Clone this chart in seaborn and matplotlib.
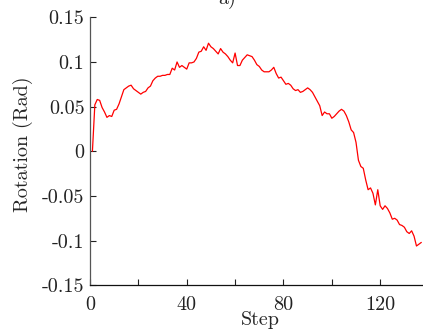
import matplotlib
matplotlib.use("Agg")
import matplotlib.pyplot as plt
import seaborn as sns
import pandas as pd

steps = list(range(1, 138))
rotation = [
    0.0, 0.052, 0.058, 0.057, 0.049, 0.044, 0.038, 0.040, 0.039, 0.046,
    0.047, 0.053, 0.061, 0.069, 0.071, 0.073, 0.074, 0.070, 0.068, 0.066,
    0.064, 0.066, 0.067, 0.071, 0.073, 0.079, 0.082, 0.084, 0.084, 0.085,
    0.085, 0.086, 0.086, 0.093, 0.091, 0.100, 0.094, 0.096, 0.094, 0.092,
    0.099, 0.099, 0.100, 0.104, 0.111, 0.112, 0.117, 0.113, 0.121, 0.117,
    0.115, 0.112, 0.109, 0.115, 0.111, 0.109, 0.106, 0.102, 0.099, 0.110,
    0.096, 0.096, 0.102, 0.105, 0.108, 0.107, 0.106, 0.102, 0.097, 0.095,
    0.091, 0.089, 0.089, 0.089, 0.091, 0.094, 0.087, 0.082, 0.083, 0.079,
    0.075, 0.076, 0.074, 0.070, 0.068, 0.069, 0.066, 0.067, 0.069, 0.071,
    0.069, 0.066, 0.061, 0.056, 0.051, 0.040, 0.044, 0.042, 0.042, 0.037,
    0.039, 0.042, 0.045, 0.047, 0.045, 0.040, 0.033, 0.024, 0.021, 0.010,
    -0.010, -0.017, -0.019, -0.032, -0.043, -0.041, -0.047, -0.060, -0.043, -0.061,
    -0.065, -0.061, -0.064, -0.069, -0.076, -0.075, -0.077, -0.082, -0.083, -0.085,
    -0.090, -0.092, -0.089, -0.095, -0.106, -0.104, -0.102,
]
xticks = [0, 40, 80, 120]
xtick_labels = ["0", "40", "80", "120"]
xminor = [20, 60, 100]
yticks = [0.15, 0.1, 0.05, 0, -0.05, -0.1, -0.15]
ytick_labels = ["0.15", "0.1", "0.05", "0", "-0.05", "-0.1", "-0.15"]

sns.set_style("ticks")
plt.rcParams["font.family"] = ["cmr10", "DejaVu Serif"]
plt.rcParams["axes.unicode_minus"] = False

df = pd.DataFrame({"Step": steps, "Rotation": rotation})

FS = 14.5
fig = plt.figure(figsize=(4.23, 3.34), dpi=100)
ax = fig.add_axes([90 / 423, 48.7 / 334, 333 / 423, 268 / 334])
sns.lineplot(data=df, x="Step", y="Rotation", ax=ax, color="#ff0000", linewidth=0.9)

ax.set_xlim(0, 137.7)
ax.set_ylim(-0.15, 0.15)
ax.set_xticks(xticks)
ax.set_xticklabels(xtick_labels)
ax.set_xticks(xminor, minor=True)
ax.set_yticks(yticks)
ax.set_yticklabels(ytick_labels)
ax.tick_params(axis="both", which="both", direction="in", length=4, width=0.8,
               labelsize=FS, colors="#222222")
ax.tick_params(axis="y", pad=4)
ax.tick_params(axis="x", pad=8)
ax.set_xlabel("Step", fontsize=FS)
ax.set_ylabel("Rotation (Rad)", fontsize=FS)
ax.xaxis.set_label_coords(0.51, -0.095)
ax.yaxis.set_label_coords(-0.172, 0.527)
for s in ["top", "right"]:
    ax.spines[s].set_visible(False)
ax.spines["left"].set_color("#555555")
ax.spines["bottom"].set_color("#111111")
ax.spines["left"].set_linewidth(0.9)
ax.spines["bottom"].set_linewidth(0.9)
fig.text(227 / 423, 1 - 4 / 334, "a)", ha="center", va="baseline", fontsize=FS)

fig.savefig("out.png", dpi=100)
